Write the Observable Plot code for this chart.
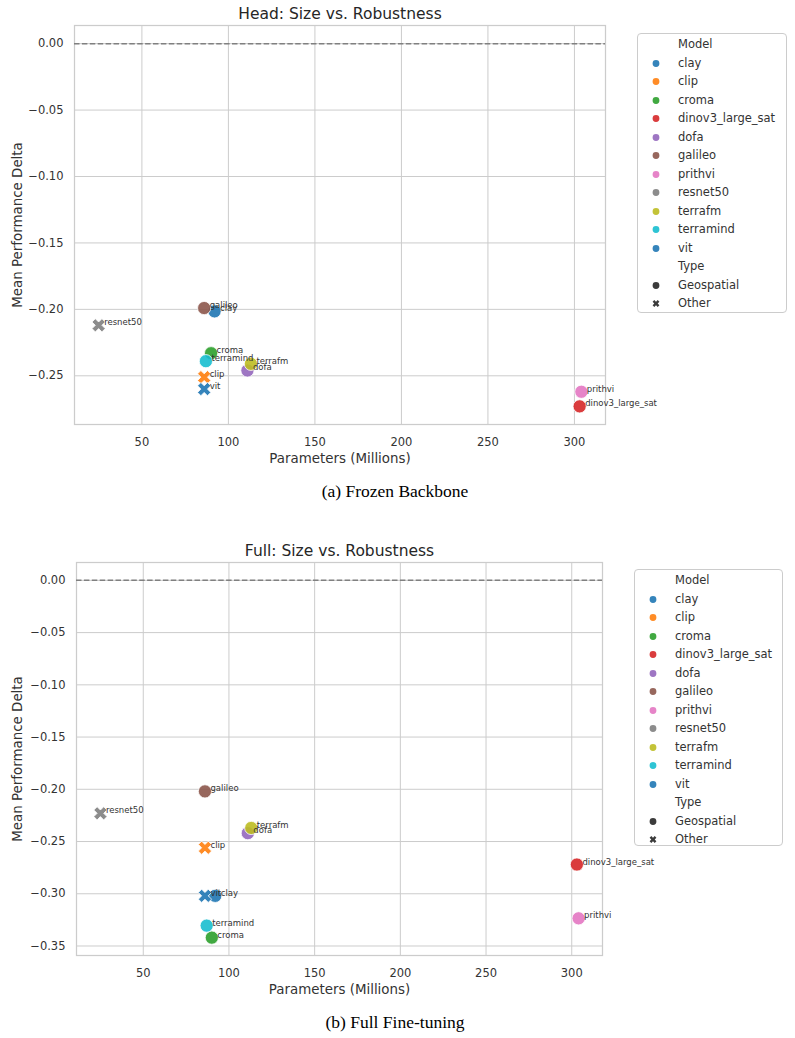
<!DOCTYPE html>
<html>
<head>
<meta charset="utf-8">
<script src="https://cdn.jsdelivr.net/npm/d3@7"></script>
<script src="https://cdn.jsdelivr.net/npm/@observablehq/plot@0.6"></script>
<style>
  body { margin: 0; background: #fff; }
  #page { position: relative; width: 795px; height: 1038px; font-family: "DejaVu Sans", sans-serif; }
  .panel { position: absolute; left: 0; }
  .caption { position: absolute; left: 0; width: 790px; text-align: center; font-family: "Liberation Serif", "Times New Roman", serif; font-size: 17.5px; line-height: 20px; color: #000; }
  .legend { position: absolute; box-sizing: border-box; border: 1px solid #cccccc; border-radius: 4px; background: #fff; }
  .legend .row { position: absolute; left: 0; height: 18px; line-height: 18px; font-size: 11.5px; color: #333; white-space: nowrap; }
  .legend svg { position: absolute; top: 0; }
  .legend span { position: absolute; }
</style>
</head>
<body>
<div id="page"></div>
<script>
// Models in plotting order, with their family and parameter count (millions)
const models = ["clay", "clip", "croma", "dinov3_large_sat", "dofa", "galileo", "prithvi", "resnet50", "terrafm", "terramind", "vit"];
const modelTypes = ["Geospatial", "Other", "Geospatial", "Geospatial", "Geospatial", "Geospatial", "Geospatial", "Other", "Geospatial", "Geospatial", "Other"];
const paramsMillions = [92, 86, 90, 303, 111, 86, 304, 25, 113, 87, 86];

// Mean performance delta under perturbation
const headDelta = [-0.2015, -0.251, -0.233, -0.273, -0.246, -0.199, -0.262, -0.212, -0.241, -0.239, -0.260];
const fullDelta = [-0.302, -0.256, -0.342, -0.272, -0.242, -0.202, -0.3235, -0.223, -0.237, -0.3305, -0.302];

// Tick labels
const xTicks = [50, 100, 150, 200, 250, 300];
const headYTicks = [0, -0.05, -0.10, -0.15, -0.20, -0.25];
const fullYTicks = [0, -0.05, -0.10, -0.15, -0.20, -0.25, -0.30, -0.35];

const typeLabels = ["Geospatial", "Other"];
const palette = d3.schemeCategory10;
const modelColors = models.map((_, i) => palette[i % palette.length]);

// Thick filled "X" marker (a plus rotated by 45 degrees)
const filledX = {
  draw(ctx, size) {
    const r = Math.sqrt(size / Math.PI);
    const u = r / 2.83;
    const c = Math.SQRT1_2;
    const pts = [[-1,-3],[1,-3],[1,-1],[3,-1],[3,1],[1,1],[1,3],[-1,3],[-1,1],[-3,1],[-3,-1],[-1,-1]];
    pts.forEach(([a, b], i) => {
      const x = (a - b) * c * u, y = (a + b) * c * u;
      i ? ctx.lineTo(x, y) : ctx.moveTo(x, y);
    });
    ctx.closePath();
  }
};

// Axis limits with a 5% margin around the data
function padded(values) {
  const [lo, hi] = d3.extent(values);
  const m = (hi - lo) * 0.05;
  return [lo - m, hi + m];
}

const textColor = "#333333";
const gridColor = "#cccccc";

function panel({title, delta, yTicks, height, marginLeft, marginRight}) {
  const rows = models.map((m, i) => ({model: m, type: modelTypes[i], params: paramsMillions[i], delta: delta[i]}));
  return Plot.plot({
    width: 795,
    height,
    marginTop: 25,
    marginBottom: 50,
    marginLeft,
    marginRight,
    style: {fontFamily: "DejaVu Sans", background: "white", color: textColor, overflow: "visible"},
    x: {domain: padded(paramsMillions)},
    y: {domain: padded([...delta, 0])},
    color: {domain: models, range: modelColors},
    symbol: {domain: typeLabels, range: [d3.symbolCircle, filledX]},
    marks: [
      Plot.gridX(xTicks, {stroke: gridColor, strokeOpacity: 1, strokeWidth: 1}),
      Plot.gridY(yTicks, {stroke: gridColor, strokeOpacity: 1, strokeWidth: 1}),
      Plot.frame({stroke: gridColor, strokeWidth: 1.25}),
      Plot.ruleY([0], {stroke: "#808080", strokeWidth: 1.5, strokeDasharray: "5.5,2.4"}),
      Plot.axisX(xTicks, {tickSize: 0, tickPadding: 13.5, fontSize: 11.5, label: null, color: textColor}),
      Plot.axisY(yTicks, {tickSize: 0, tickPadding: 11, fontSize: 11.5, label: null, color: textColor, tickFormat: d3.format(".2f")}),
      Plot.dot(rows, {x: "params", y: "delta", fill: "model", symbol: "type", r: 6.6, stroke: "white", strokeWidth: 0.8, fillOpacity: 0.9}),
      Plot.text(rows, {x: "params", y: "delta", text: "model", dx: 5.5, textAnchor: "start", lineAnchor: "bottom", fontSize: 8.5, fill: textColor}),
      Plot.text([title], {text: d => d, frameAnchor: "top", dy: -11, fontSize: 15.5, lineAnchor: "middle", textAnchor: "middle", fill: "#262626"}),
      Plot.text(["Parameters (Millions)"], {text: d => d, frameAnchor: "bottom", dy: 34, fontSize: 13.4, lineAnchor: "middle", textAnchor: "middle", fill: textColor}),
      Plot.text(["Mean Performance Delta"], {text: d => d, frameAnchor: "left", dx: 17 - marginLeft, rotate: -90, fontSize: 13.4, lineAnchor: "middle", textAnchor: "middle", fill: textColor})
    ]
  });
}

function legend({left, top, width, height}) {
  const box = document.createElement("div");
  box.className = "legend";
  Object.assign(box.style, {left: left + "px", top: top + "px", width: width + "px", height: height + "px"});
  const entries = [
    {label: "Model", title: true},
    ...models.map((m, i) => ({label: m, color: modelColors[i], symbol: d3.symbolCircle})),
    {label: "Type", title: true},
    {label: typeLabels[0], color: "#262626", symbol: d3.symbolCircle},
    {label: typeLabels[1], color: "#262626", symbol: filledX}
  ];
  entries.forEach((e, i) => {
    const row = document.createElement("div");
    row.className = "row";
    row.style.top = (1 + i * 18.5) + "px";
    row.style.width = width + "px";
    if (!e.title) {
      const svg = d3.create("svg").attr("width", 12).attr("height", 18).style("left", "12px");
      svg.append("path")
        .attr("transform", "translate(6,9.5)")
        .attr("d", d3.symbol(e.symbol, Math.PI * 3.4 * 3.4)())
        .attr("fill", e.color)
        .attr("fill-opacity", 0.9);
      row.appendChild(svg.node());
    }
    const span = document.createElement("span");
    span.style.left = "40px";
    span.textContent = e.label;
    row.appendChild(span);
    box.appendChild(row);
  });
  return box;
}

const page = document.getElementById("page");

const head = panel({title: "Head: Size vs. Robustness", delta: headDelta, yTicks: headYTicks, height: 474, marginLeft: 74, marginRight: 190});
head.classList.add("panel");
head.style.top = "0px";
page.appendChild(head);
page.appendChild(legend({left: 637, top: 33, width: 150, height: 280}));

const capA = document.createElement("div");
capA.className = "caption";
capA.style.top = "481px";
capA.textContent = "(a) Frozen Backbone";
page.appendChild(capA);

const full = panel({title: "Full: Size vs. Robustness", delta: fullDelta, yTicks: fullYTicks, height: 468, marginLeft: 76, marginRight: 193});
full.classList.add("panel");
full.style.top = "537px";
page.appendChild(full);
page.appendChild(legend({left: 634, top: 569, width: 149, height: 277}));

const capB = document.createElement("div");
capB.className = "caption";
capB.style.top = "1012px";
capB.textContent = "(b) Full Fine-tuning";
page.appendChild(capB);
</script>
</body>
</html>
